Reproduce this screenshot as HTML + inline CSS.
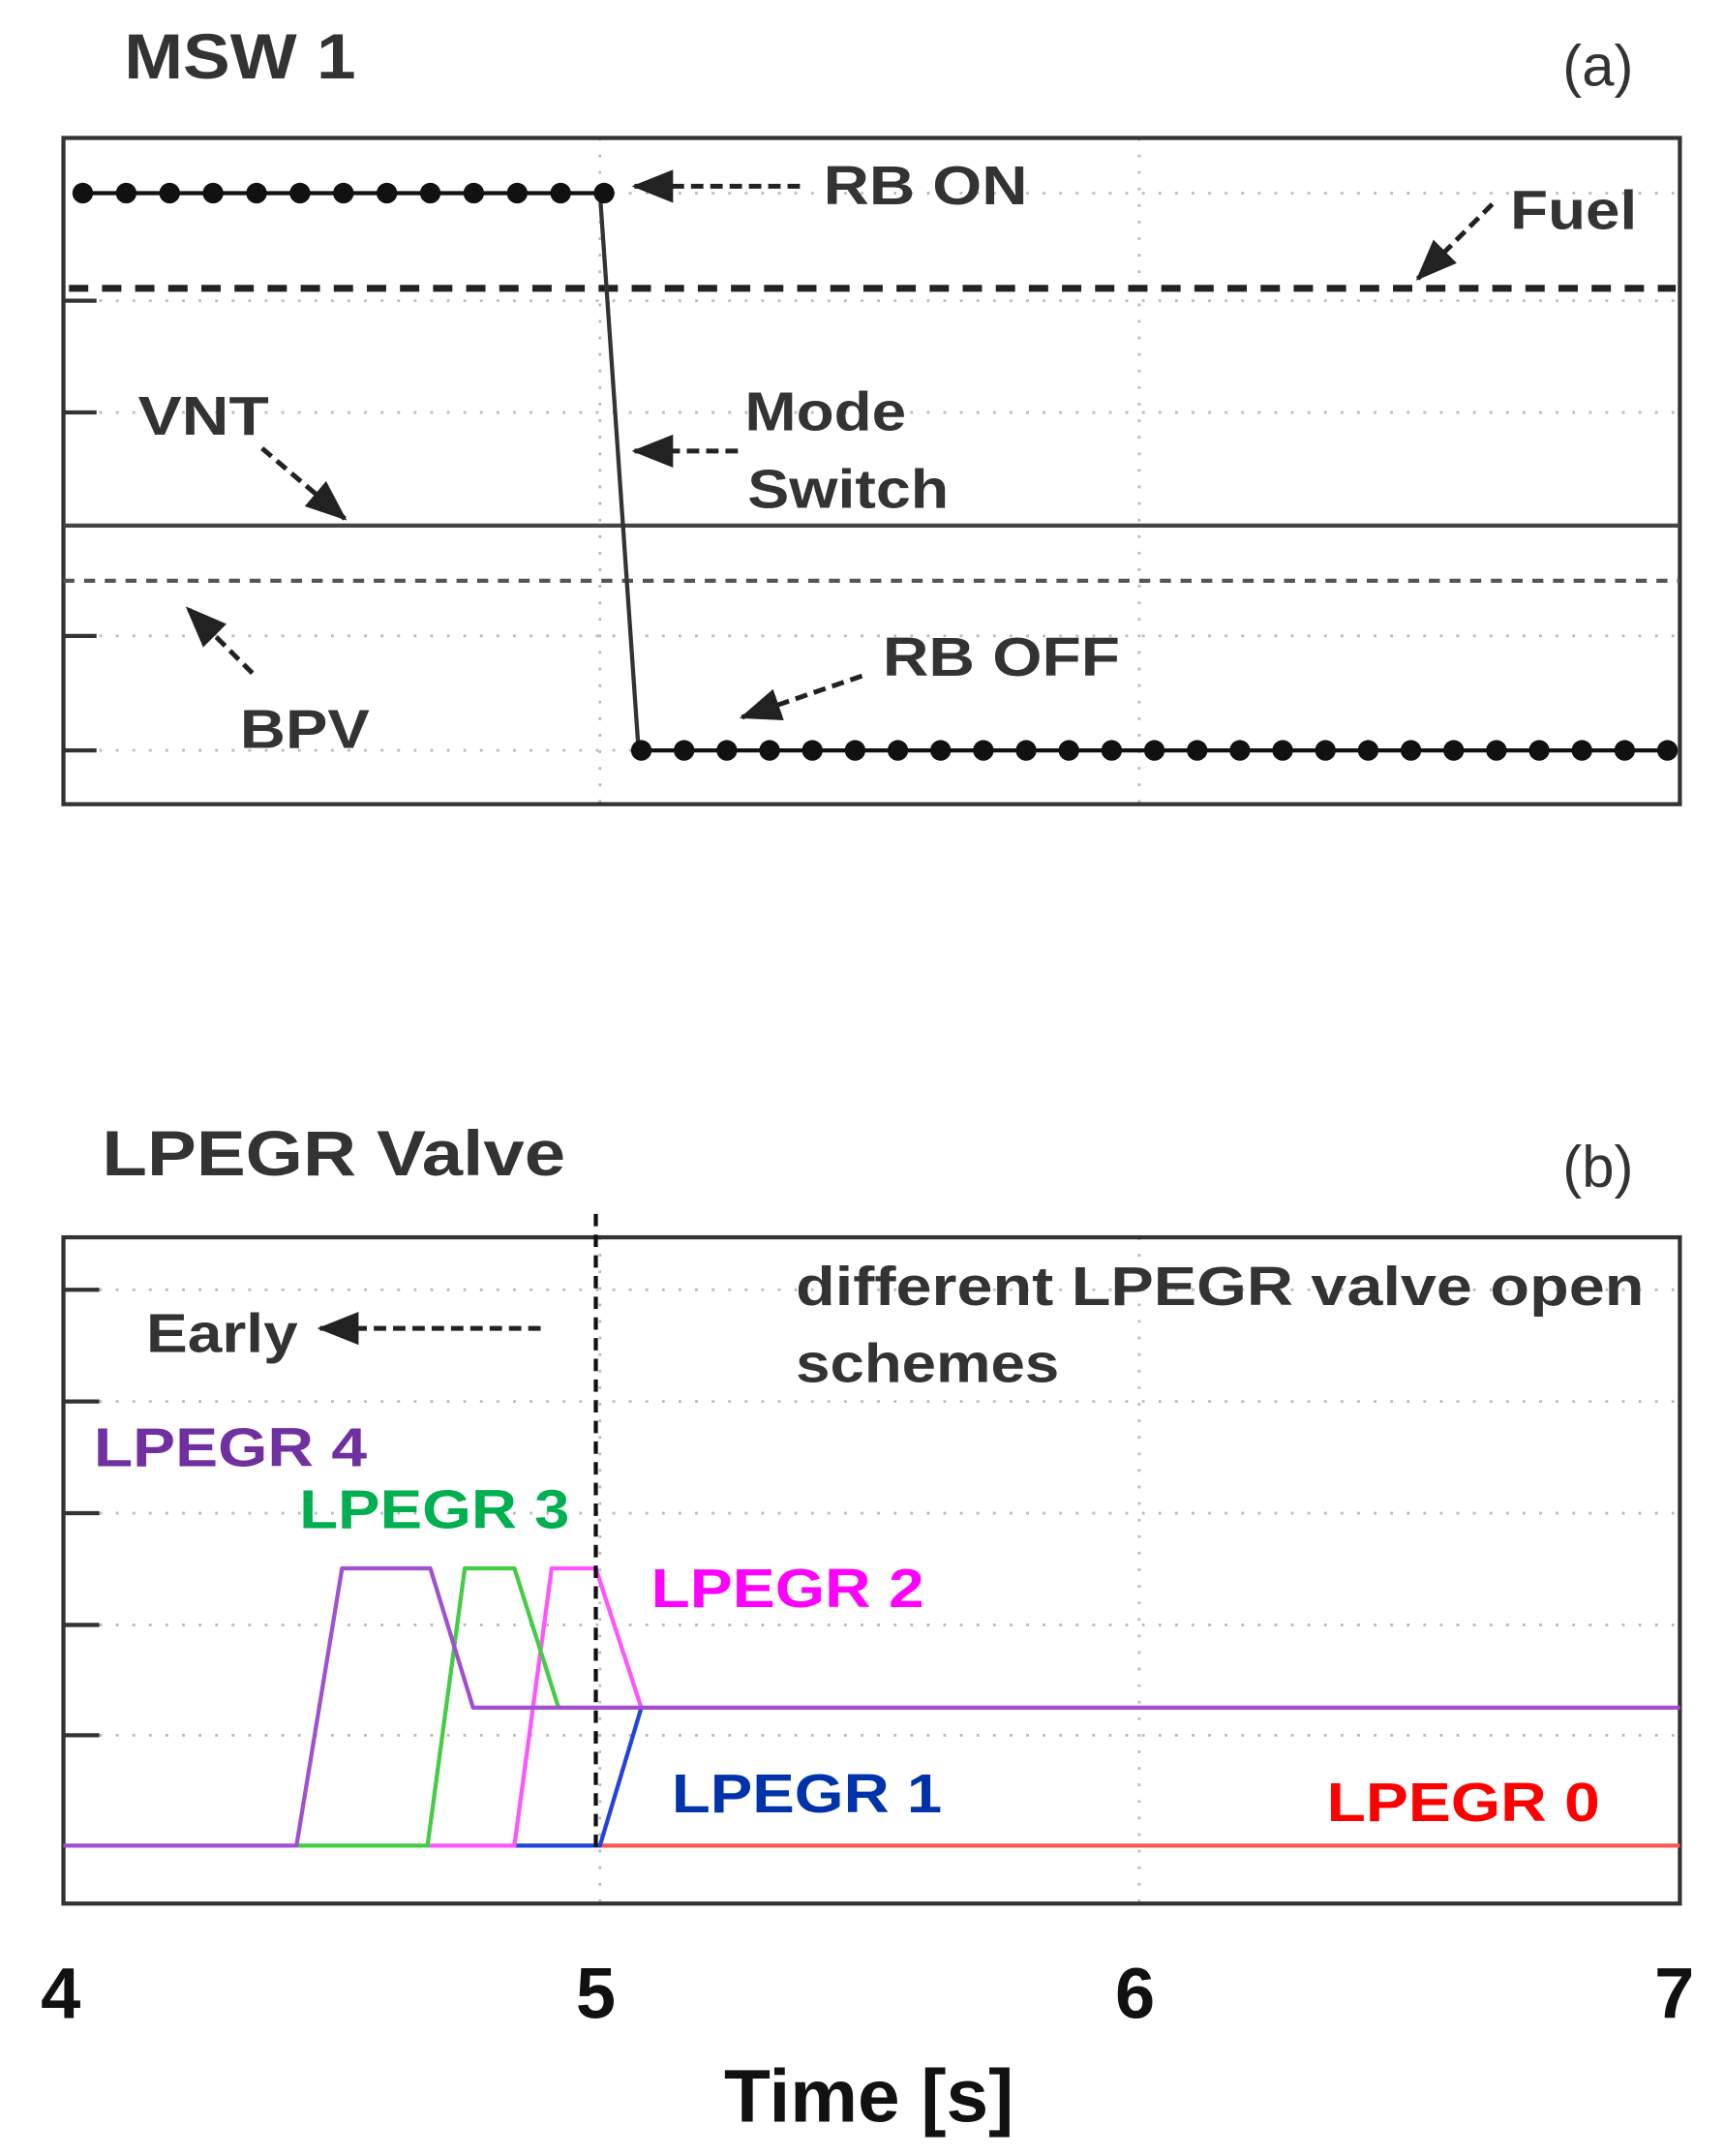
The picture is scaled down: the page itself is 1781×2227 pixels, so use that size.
<!DOCTYPE html>
<html><head><meta charset="utf-8"><style>
html,body{margin:0;padding:0;background:#fff;}
svg{display:block;}
text{font-family:"Liberation Sans",Arial,sans-serif;}
</style></head><body>
<svg width="1781" height="2227" viewBox="0 0 1250 1563" xmlns="http://www.w3.org/2000/svg">
<defs>
<marker id="ah" markerWidth="30" markerHeight="24" refX="28" refY="12" orient="auto" markerUnits="userSpaceOnUse" viewBox="0 0 30 24">
<path d="M0,0 L30,12 L0,24 z" fill="#222"/></marker>
</defs>
<!-- Panel a -->
<text x="90" y="57" font-size="46" font-weight="bold" fill="#333" textLength="168" lengthAdjust="spacingAndGlyphs">MSW 1</text>
<text x="1133" y="62" font-size="42" fill="#333">(a)</text>
<g stroke="#bbb" stroke-width="2" stroke-dasharray="2,10">
<line x1="60" y1="140" x2="1215" y2="140"/><line x1="60" y1="218" x2="1215" y2="218"/>
<line x1="60" y1="299" x2="1215" y2="299"/><line x1="60" y1="461" x2="1215" y2="461"/>
<line x1="60" y1="544" x2="1215" y2="544"/>
<line x1="435" y1="100" x2="435" y2="583"/><line x1="826" y1="100" x2="826" y2="583"/>
</g>
<g stroke="#333" stroke-width="3">
<line x1="46" y1="218" x2="70" y2="218"/><line x1="46" y1="299" x2="70" y2="299"/>
<line x1="46" y1="461" x2="70" y2="461"/><line x1="46" y1="544" x2="70" y2="544"/>
</g>
<rect x="46" y="100" width="1172" height="483" fill="none" stroke="#333" stroke-width="3"/>
<line x1="50" y1="209" x2="1215" y2="209" stroke="#222" stroke-width="5" stroke-dasharray="14,10"/>
<line x1="46" y1="381" x2="1218" y2="381" stroke="#444" stroke-width="3"/>
<line x1="46" y1="421" x2="1218" y2="421" stroke="#555" stroke-width="3" stroke-dasharray="8,7"/>
<line x1="435" y1="140" x2="463" y2="544" stroke="#333" stroke-width="3"/>
<line x1="60" y1="140" x2="437" y2="140" stroke="#111" stroke-width="3"/>
<line x1="463" y1="544" x2="1215" y2="544" stroke="#111" stroke-width="3"/>
<g fill="#111">
<circle cx="60" cy="140" r="7.5"/><circle cx="91.5" cy="140" r="7.5"/><circle cx="123" cy="140" r="7.5"/><circle cx="154.5" cy="140" r="7.5"/><circle cx="186" cy="140" r="7.5"/><circle cx="217.5" cy="140" r="7.5"/><circle cx="249" cy="140" r="7.5"/><circle cx="280.5" cy="140" r="7.5"/><circle cx="312" cy="140" r="7.5"/><circle cx="343.5" cy="140" r="7.5"/><circle cx="375" cy="140" r="7.5"/><circle cx="406.5" cy="140" r="7.5"/><circle cx="438" cy="140" r="7.5"/>
<circle cx="465" cy="544" r="7.5"/><circle cx="496" cy="544" r="7.5"/><circle cx="527" cy="544" r="7.5"/><circle cx="558" cy="544" r="7.5"/><circle cx="589" cy="544" r="7.5"/><circle cx="620" cy="544" r="7.5"/><circle cx="651" cy="544" r="7.5"/><circle cx="682" cy="544" r="7.5"/><circle cx="713" cy="544" r="7.5"/><circle cx="744" cy="544" r="7.5"/><circle cx="775" cy="544" r="7.5"/><circle cx="806" cy="544" r="7.5"/><circle cx="837" cy="544" r="7.5"/><circle cx="868" cy="544" r="7.5"/><circle cx="899" cy="544" r="7.5"/><circle cx="930" cy="544" r="7.5"/><circle cx="961" cy="544" r="7.5"/><circle cx="992" cy="544" r="7.5"/><circle cx="1023" cy="544" r="7.5"/><circle cx="1054" cy="544" r="7.5"/><circle cx="1085" cy="544" r="7.5"/><circle cx="1116" cy="544" r="7.5"/><circle cx="1147" cy="544" r="7.5"/><circle cx="1178" cy="544" r="7.5"/><circle cx="1209" cy="544" r="7.5"/>
</g>
<g stroke="#222" stroke-width="3.5" stroke-dasharray="9,5" fill="none" marker-end="url(#ah)">
<line x1="580" y1="135" x2="460" y2="135"/>
<line x1="1082" y1="148" x2="1028" y2="202"/>
<line x1="190" y1="325" x2="250" y2="376"/>
<line x1="535" y1="327" x2="460" y2="327"/>
<line x1="183" y1="488" x2="136" y2="441"/>
<line x1="625" y1="490" x2="538" y2="520"/>
</g>
<g font-size="40" fill="#333" font-weight="bold" lengthAdjust="spacingAndGlyphs">
<text x="597" y="148" textLength="148" lengthAdjust="spacingAndGlyphs">RB ON</text>
<text x="1095" y="166" textLength="92" lengthAdjust="spacingAndGlyphs">Fuel</text>
<text x="100" y="315" textLength="95" lengthAdjust="spacingAndGlyphs">VNT</text>
<text x="540" y="312" textLength="117" lengthAdjust="spacingAndGlyphs">Mode</text>
<text x="542" y="368" textLength="146" lengthAdjust="spacingAndGlyphs">Switch</text>
<text x="640" y="490" textLength="172" lengthAdjust="spacingAndGlyphs">RB OFF</text>
<text x="174" y="542" textLength="94" lengthAdjust="spacingAndGlyphs">BPV</text>
</g>
<!-- Panel b -->
<text x="74" y="852" font-size="46" font-weight="bold" fill="#333" textLength="336" lengthAdjust="spacingAndGlyphs">LPEGR Valve</text>
<text x="1133" y="860" font-size="42" fill="#333">(b)</text>
<g stroke="#bbb" stroke-width="2" stroke-dasharray="2,10">
<line x1="60" y1="935" x2="1215" y2="935"/><line x1="60" y1="1016" x2="1215" y2="1016"/>
<line x1="60" y1="1097" x2="1215" y2="1097"/><line x1="60" y1="1178" x2="1215" y2="1178"/>
<line x1="60" y1="1258" x2="1215" y2="1258"/>
<line x1="435" y1="897" x2="435" y2="1380"/><line x1="826" y1="897" x2="826" y2="1380"/>
</g>
<g stroke="#333" stroke-width="3">
<line x1="46" y1="935" x2="72" y2="935"/><line x1="46" y1="1016" x2="72" y2="1016"/>
<line x1="46" y1="1097" x2="72" y2="1097"/><line x1="46" y1="1178" x2="72" y2="1178"/>
<line x1="46" y1="1258" x2="72" y2="1258"/>
</g>
<rect x="46" y="897" width="1172" height="483" fill="none" stroke="#333" stroke-width="3"/>
<g fill="none" stroke-width="3" stroke-linejoin="round">
<polyline points="435,1338 1218,1338" stroke="#f55"/>
<polyline points="373,1338 435,1338 465,1238" stroke="#2244dd"/>
<polyline points="310,1338 373,1338 400,1137 432,1137 465,1238" stroke="#f5f"/>
<polyline points="215,1338 310,1338 337,1137 373,1137 405,1238" stroke="#4c4"/>
<polyline points="46,1338 215,1338 248,1137 312,1137 343,1238 1218,1238" stroke="#a050d0"/>
</g>
<line x1="432" y1="880" x2="432" y2="1340" stroke="#111" stroke-width="3" stroke-dasharray="9,6"/>
<line x1="392" y1="963" x2="232" y2="963" stroke="#222" stroke-width="3.5" stroke-dasharray="9,5" marker-end="url(#ah)"/>
<g font-size="40" font-weight="bold">
<text x="106" y="980" fill="#333" textLength="110" lengthAdjust="spacingAndGlyphs">Early</text>
<text x="577" y="946" fill="#333" textLength="615" lengthAdjust="spacingAndGlyphs">different LPEGR valve open</text>
<text x="577" y="1002" fill="#333" textLength="191" lengthAdjust="spacingAndGlyphs">schemes</text>
<text x="68" y="1063" fill="#7030a0" textLength="198" lengthAdjust="spacingAndGlyphs">LPEGR 4</text>
<text x="217" y="1108" fill="#00b050" textLength="196" lengthAdjust="spacingAndGlyphs">LPEGR 3</text>
<text x="472" y="1165" fill="#ff00ff" textLength="198" lengthAdjust="spacingAndGlyphs">LPEGR 2</text>
<text x="487" y="1314" fill="#0033aa" textLength="196" lengthAdjust="spacingAndGlyphs">LPEGR 1</text>
<text x="962" y="1320" fill="#ff0000" textLength="198" lengthAdjust="spacingAndGlyphs">LPEGR 0</text>
</g>
<g font-size="52" fill="#111" text-anchor="middle" font-weight="bold">
<text x="44" y="1463">4</text><text x="432" y="1463">5</text>
<text x="823" y="1463">6</text><text x="1214" y="1463">7</text>
</g>
<text x="525" y="1538" font-size="54" fill="#111" font-weight="bold" textLength="210" lengthAdjust="spacingAndGlyphs">Time [s]</text>
</svg>
</body></html>
